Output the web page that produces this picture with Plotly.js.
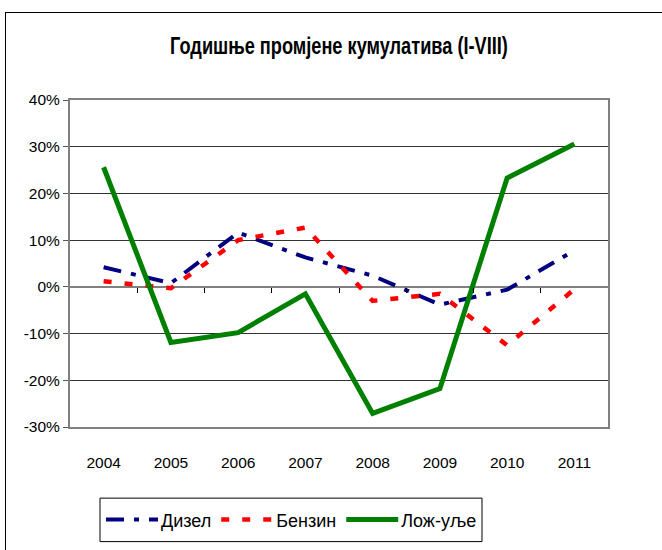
<!DOCTYPE html>
<html>
<head>
<meta charset="utf-8">
<script src="https://cdn.plot.ly/plotly-3.0.1.min.js"></script>
<style>
html,body{margin:0;padding:0;background:#fff;overflow:hidden;width:662px;height:550px;}
#wrap{position:relative;width:662px;height:550px;overflow:hidden;}
#chart{width:662px;height:550px;}
#frame{position:absolute;left:5px;top:12px;right:0;bottom:0;border-left:1.5px solid #000;border-top:1.5px solid #000;pointer-events:none;}
</style>
</head>
<body>
<div id="wrap"><div id="chart"></div><div id="frame"></div></div>
<script>
const years = ['2004','2005','2006','2007','2008','2009','2010','2011'];
const dizel = [4.2, 0.8, 11.6, 6.3, 2.4, -3.8, -0.6, 7.8];
const benzin = [1.2, -0.3, 10.0, 12.7, -3.0, -1.5, -12.5, -0.5];
const lozUlje = [25.6, -11.9, -9.8, -1.5, -27.1, -21.8, 23.3, 30.6];
const yTickVals = [-30, -20, -10, 0, 10, 20, 30, 40];
const yTickText = ['-30%', '-20%', '-10%', '0%', '10%', '20%', '30%', '40%'];
const seriesNames = ['Дизел', 'Бензин', 'Лож-уље'];
const titleText = 'Годишње промјене кумулатива (I-VIII)';

const FONT = '"Liberation Sans", Arial, "DejaVu Sans", sans-serif';

// paper-coordinate helpers (plot area spans x 70..608, y 100..431 px)
const px = v => (v - 70) / 538;
const py = v => (431 - v) / 331;

const traces = [
  {x: years, y: dizel, name: seriesNames[0], type: 'scatter', mode: 'lines',
   line: {color: '#000080', width: 4, dash: '18px,10px,5px,10px'}},
  {x: years, y: benzin, name: seriesNames[1], type: 'scatter', mode: 'lines',
   line: {color: '#FF0000', width: 4.5, dash: '8px,13px'}},
  {x: years, y: lozUlje, name: seriesNames[2], type: 'scatter', mode: 'lines',
   line: {color: '#008000', width: 5}},
  {x: [0], y: [0], xaxis: 'x2', yaxis: 'y', mode: 'lines', showlegend: false, hoverinfo: 'skip',
   line: {color: 'rgba(0,0,0,0)'}}
];

const layout = {
  width: 662, height: 550,
  margin: {l: 70, r: 54, t: 100, b: 119},
  paper_bgcolor: '#fff', plot_bgcolor: '#fff',
  font: {family: FONT, color: '#000', size: 15},
  title: {text: titleText, font: {family: FONT, size: 24, weight: 'bold', color: '#000'},
          xref: 'paper', x: 0.5, xanchor: 'center', yref: 'container', y: 1 - 46/550, yanchor: 'middle'},
  showlegend: true,
  legend: {orientation: 'h', x: px(101), xanchor: 'left', y: py(525), yanchor: 'middle',
           borderwidth: 0, font: {family: FONT, size: 18, color: '#000'},
           itemwidth: 50, bgcolor: 'rgba(0,0,0,0)'},
  xaxis: {type: 'category', categoryarray: years, range: [-0.5, 7.5],
          showgrid: false, zeroline: false, showline: true, mirror: true,
          linecolor: '#808080', linewidth: 2, ticks: 'outside', ticklen: 20,
          tickcolor: 'rgba(0,0,0,0)', tickfont: {family: FONT, size: 15.5, color: '#000'}},
  xaxis2: {overlaying: 'x', anchor: 'free', position: 3/7, range: [-0.5, 7.5],
           tickvals: [0.5, 1.5, 2.5, 3.5, 4.5, 5.5, 6.5], showticklabels: false,
           ticks: 'outside', ticklen: 5, tickcolor: '#000', tickwidth: 1,
           showgrid: false, zeroline: false, showline: false},
  yaxis: {range: [-30, 40], tickvals: yTickVals, ticktext: yTickText,
          showgrid: true, gridcolor: '#333', gridwidth: 1,
          zeroline: true, zerolinecolor: '#808080', zerolinewidth: 2,
          showline: true, mirror: true, linecolor: '#808080', linewidth: 2,
          ticks: 'outside', ticklen: 5, tickcolor: '#555',
          tickfont: {family: FONT, size: 15.5, color: '#000'}},
  shapes: [
    {type: 'rect', xref: 'paper', yref: 'paper', x0: px(100), x1: px(482), y0: py(547), y1: py(503),
     line: {color: '#000', width: 1}, fillcolor: 'rgba(0,0,0,0)'}
  ],
  hovermode: false
};

Plotly.newPlot('chart', traces, layout, {staticPlot: true, displayModeBar: false}).then(gd => {
  const t = gd.querySelector('.gtitle');
  if (t) {
    const w = t.getComputedTextLength();
    const s = 338 / w;
    const x = parseFloat(t.getAttribute('x'));
    t.setAttribute('transform', 'translate(' + (x * (1 - s)) + ',0) scale(' + s + ',1)');
  }
  gd.querySelectorAll('.legend path.js-line').forEach(p => p.setAttribute('d', 'M5,0h52'));
});
</script>
</body>
</html>
